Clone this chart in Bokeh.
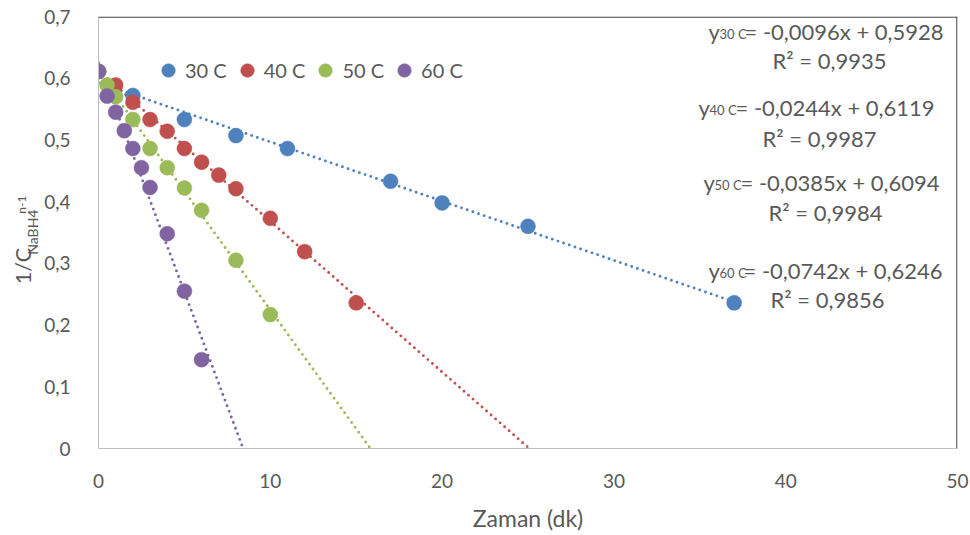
import math

from bokeh.embed import file_html
from bokeh.layouts import row
from bokeh.models import (FixedTicker, Label, Legend, LegendItem, Range1d,
                          Span)
from bokeh.plotting import figure
from bokeh.resources import INLINE

# ---- data -----------------------------------------------------------------
series_names = ["30 C", "40 C", "50 C", "60 C"]
series_tags = ["30 C", "40 C", "50 C", "60 C"]
series_colors = ["#4F81BD", "#C0504D", "#9BBB59", "#8064A2"]

t_30 = [0, 2, 5, 8, 11, 17, 20, 25, 37]
c_30 = [0.611, 0.572, 0.533, 0.507, 0.486, 0.433, 0.398, 0.360, 0.236]

t_40 = [0, 1, 2, 3, 4, 5, 6, 7, 8, 10, 12, 15]
c_40 = [0.611, 0.589, 0.561, 0.533, 0.514, 0.486, 0.464, 0.443, 0.421,
        0.373, 0.319, 0.236]

t_50 = [0, 0.5, 1, 2, 3, 4, 5, 6, 8, 10]
c_50 = [0.611, 0.589, 0.570, 0.533, 0.486, 0.455, 0.422, 0.386, 0.305, 0.217]

t_60 = [0, 0.5, 1, 1.5, 2, 2.5, 3, 4, 5, 6]
c_60 = [0.611, 0.571, 0.545, 0.515, 0.486, 0.455, 0.423, 0.348, 0.255, 0.144]

# linear fits  y = slope * x + intercept
slopes = [-0.0096, -0.0244, -0.0385, -0.0742]
intercepts = [0.5928, 0.6119, 0.6094, 0.6246]
r_squared = [0.9935, 0.9987, 0.9984, 0.9856]
# whether the fit line is forecast down to the time axis
fit_to_axis = [False, True, True, True]

x_ticks = [0, 10, 20, 30, 40, 50]
y_ticks = [0, 0.1, 0.2, 0.3, 0.4, 0.5, 0.6, 0.7]
y_tick_labels = ["0", "0,1", "0,2", "0,3", "0,4", "0,5", "0,6", "0,7"]

times = [t_30, t_40, t_50, t_60]
concs = [c_30, c_40, c_50, c_60]

# ---- layout ---------------------------------------------------------------
W, H = 970, 535
SIDE_W = 40                                # strip holding the y-axis title
FL, FR, FT, FB = 98, 957, 16, 448          # frame edges in page pixels
X0, X1, Y0, Y1 = 0, 50, 0, 0.7

FONT = "Lato"
TXT = "#595959"
MID = 0.4  # centre of a text line above its baseline, in em


def dx(px):
    return X0 + (px - FL) * (X1 - X0) / (FR - FL)


def dy(py):
    return Y0 + (FB - py) * (Y1 - Y0) / (FB - FT)


def comma(v):
    return f"{v:.4f}".replace(".", ",")


p = figure(width=W - SIDE_W, height=H, output_backend="svg",
           toolbar_location=None,
           x_range=Range1d(X0, X1), y_range=Range1d(Y0, Y1),
           min_border_left=FL - SIDE_W, min_border_right=W - FR,
           min_border_top=FT, min_border_bottom=H - FB)
p.outline_line_color = None
p.xgrid.grid_line_color = None
p.ygrid.grid_line_color = None
p.background_fill_color = "white"
p.border_fill_color = "white"

for ax in (p.xaxis[0], p.yaxis[0]):
    ax.axis_line_color = "#BFBFBF"
    ax.axis_line_width = 1
    ax.major_tick_line_color = None
    ax.minor_tick_line_color = None
    ax.major_label_text_font = FONT
    ax.major_label_text_font_size = "19px"
    ax.major_label_text_color = TXT

p.xaxis.ticker = FixedTicker(ticks=x_ticks)
p.yaxis.ticker = FixedTicker(ticks=y_ticks)
p.yaxis.major_label_overrides = dict(zip(y_ticks, y_tick_labels))
p.xaxis.major_label_standoff = 19
p.yaxis.major_label_standoff = 22

p.xaxis.axis_label = "Zaman (dk)"
p.xaxis.axis_label_text_font = FONT
p.xaxis.axis_label_text_font_size = "23px"
p.xaxis.axis_label_text_font_style = "normal"
p.xaxis.axis_label_text_color = TXT
p.xaxis.axis_label_standoff = 13

# dark plot-area border on top and right (kept just inside the frame)
p.add_layout(Span(location=Y1 - 0.6 * (Y1 - Y0) / (FB - FT), dimension="width",
                  line_color="#404040", line_width=1.2))
p.add_layout(Span(location=X1 - 0.6 * (X1 - X0) / (FR - FL), dimension="height",
                  line_color="#404040", line_width=1.2))

# fit lines (under the markers)
for i in range(4):
    if fit_to_axis[i]:
        x_end = -intercepts[i] / slopes[i]
    else:
        x_end = max(times[i])
    xs = [0, x_end]
    ys = [intercepts[i], slopes[i] * x_end + intercepts[i]]
    p.line(xs, ys, line_color=series_colors[i], line_width=2.9,
           line_dash="0 6", line_cap="round")

# measured points
renderers = []
for i in range(4):
    r = p.scatter(times[i], concs[i], size=15, fill_color=series_colors[i],
                  line_color=series_colors[i], line_width=0.5)
    renderers.append(r)

legend = Legend(items=[LegendItem(label=series_names[i], renderers=[renderers[i]])
                       for i in range(4)],
                orientation="horizontal", location=(53, 359),
                glyph_width=34, glyph_height=38, label_standoff=0,
                spacing=3, padding=0, margin=0,
                label_text_font=FONT, label_text_font_size="20px",
                label_text_color=TXT, border_line_color=None,
                background_fill_alpha=0)
p.add_layout(legend, "center")

# fit equations:  y_sub = slope x + intercept,  R² = ...
eq_pos = [  # (y-letter left, subscript left, equation left, baseline, R² centre, R² baseline)
    (708, 719, 744, 40, 829, 69),
    (698, 709, 735, 116, 819, 147),
    (703, 714, 740, 191, 825, 221),
    (708, 719, 743, 279, 827, 308),
]
EQ_FS, SUB_FS = 22, 13
for i, (xy, xs_, xe, bl, rc, rbl) in enumerate(eq_pos):
    main = f"= {comma(slopes[i])}x + {comma(intercepts[i])}"
    pieces = [
        (xy, bl, "y", EQ_FS, "left"),
        (xs_, bl - 1, series_tags[i], SUB_FS, "left"),
        (xe, bl, main, EQ_FS, "left"),
        (rc, rbl, f"R² = {comma(r_squared[i])}", EQ_FS, "center"),
    ]
    for px, base, txt, fs, al in pieces:
        p.add_layout(Label(x=dx(px), y=dy(base - MID * fs), text=txt,
                           text_font=FONT, text_font_size=f"{fs}px",
                           text_color=TXT, text_align=al,
                           text_baseline="middle"))

# vertical axis title  1/C_NaBH4^(n-1), in its own strip left of the chart
side = figure(width=SIDE_W, height=H, output_backend="svg", title=None,
              toolbar_location=None, x_range=Range1d(0, SIDE_W),
              y_range=Range1d(0, H), x_axis_type=None, y_axis_type=None,
              min_border_left=0, min_border_right=0,
              min_border_top=0, min_border_bottom=0)
side.outline_line_color = None
side.xgrid.grid_line_color = None
side.ygrid.grid_line_color = None
side.border_fill_color = "white"
# anchor of each piece, measured down from the strip's top
for cx, cy, txt, fs in [(22, 309, "1/C", 21.5),
                        (32, 267, "NaBH4", 14),
                        (21, 233, "n-1", 12)]:
    side.add_layout(Label(x=cx, y=H - cy, text=txt,
                          angle=math.pi / 2, text_font=FONT,
                          text_font_size=f"{fs}px", text_color=TXT,
                          text_align="center", text_baseline="middle"))

layout = row(side, p)
open("out.html", "w").write(file_html(layout, INLINE))
